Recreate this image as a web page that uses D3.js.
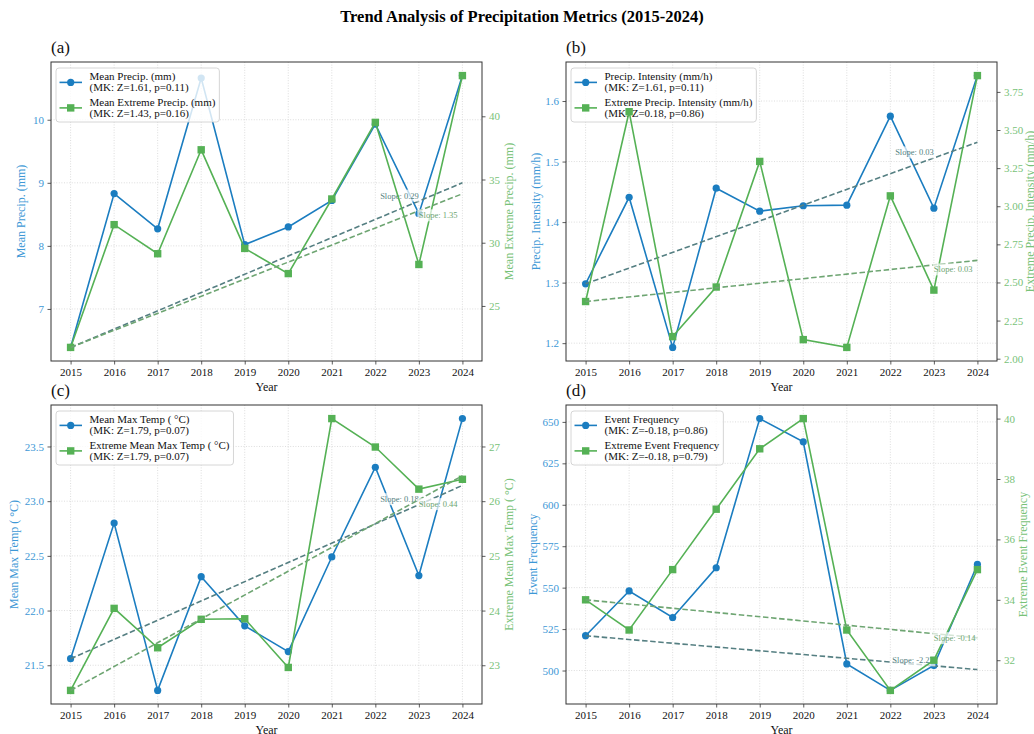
<!DOCTYPE html>
<html>
<head>
<meta charset="utf-8">
<script src="https://cdn.jsdelivr.net/npm/d3@7"></script>
<style>
  body { margin: 0; background: #fff; }
  svg { display: block; }
</style>
</head>
<body>
<svg id="chart" width="1034" height="734"></svg>
<script>
// ---- data -------------------------------------------------------------
const years = [2015, 2016, 2017, 2018, 2019, 2020, 2021, 2022, 2023, 2024];

// (a) precipitation amount
const meanPrecip        = [6.39, 8.83, 8.27, 10.66, 8.02, 8.30, 8.72, 9.93, 8.51, 10.70];
const meanExtremePrecip = [21.72, 31.43, 29.13, 37.35, 29.55, 27.56, 33.46, 39.52, 28.28, 43.22];
// (b) precipitation intensity
const precipIntensity        = [1.298, 1.441, 1.193, 1.456, 1.418, 1.427, 1.428, 1.575, 1.423, 1.642];
const extremePrecipIntensity = [2.375, 3.62, 2.145, 2.47, 3.294, 2.125, 2.074, 3.068, 2.45, 3.857];
// (c) maximum temperature
const meanMaxTemp        = [21.56, 22.80, 21.27, 22.31, 21.86, 21.625, 22.49, 23.31, 22.32, 23.755];
const extremeMeanMaxTemp = [22.54, 24.04, 23.32, 23.84, 23.85, 22.96, 27.51, 26.99, 26.22, 26.40];
// (d) event counts
const eventFreq        = [521, 548, 532, 562, 652, 638, 504, 488, 503, 564];
const extremeEventFreq = [34, 33, 35, 37, 39, 40, 33, 31, 32, 35];

const panelLetters = ["(a)", "(b)", "(c)", "(d)"];
const primaryNames   = ["Mean Precip. (mm)", "Precip. Intensity (mm/h)", "Mean Max Temp ( \u00B0C)", "Event Frequency"];
const secondaryNames = ["Mean Extreme Precip. (mm)", "Extreme Precip. Intensity (mm/h)", "Extreme Mean Max Temp ( \u00B0C)", "Extreme Event Frequency"];
const primaryMK   = [["1.61", "0.11"], ["1.61", "0.11"], ["1.79", "0.07"], ["-0.18", "0.86"]];
const secondaryMK = [["1.43", "0.16"], ["0.18", "0.86"], ["1.79", "0.07"], ["-0.18", "0.79"]];
// Sen's slope per year, trend anchored on the first year
const primarySlopes   = [0.29, 0.026, 0.176, -2.27];
const secondarySlopes = [1.35, 0.03, 0.436, -0.14];

const leftTicks  = [[7, 8, 9, 10], [1.2, 1.3, 1.4, 1.5, 1.6], [21.5, 22.0, 22.5, 23.0, 23.5], [500, 525, 550, 575, 600, 625, 650]];
const rightTicks = [[25, 30, 35, 40], [2.00, 2.25, 2.50, 2.75, 3.00, 3.25, 3.50, 3.75], [23, 24, 25, 26, 27], [32, 34, 36, 38, 40]];
const leftFormats  = ["d", ".1f", ".1f", "d"];
const rightFormats = ["d", ".2f", "d", "d"];

const primarySeries   = [meanPrecip, precipIntensity, meanMaxTemp, eventFreq];
const secondarySeries = [meanExtremePrecip, extremePrecipIntensity, extremeMeanMaxTemp, extremeEventFreq];

// ---- layout & style --------------------------------------------------
const FONT = "'Liberation Serif', 'Times New Roman', serif";
const BLUE = "#1b7dc0", GREEN = "#55b155";
const BLUE_TXT = "#3d98d6", GREEN_TXT = "#78c278";
const BLUE_TREND = "#557f82", GREEN_TREND = "#6ea572";

const panels = [
  { left: 51,  top: 62,  width: 431, height: 299, leftLab: -30, rightLab: 27 },
  { left: 566, top: 62,  width: 431, height: 299, leftLab: -30, rightLab: 33 },
  { left: 51,  top: 405, width: 431, height: 299, leftLab: -37, rightLab: 27 },
  { left: 566, top: 405, width: 431, height: 299, leftLab: -33, rightLab: 26 }
];

const svg = d3.select("#chart").style("font-family", FONT);

svg.append("text")
  .attr("x", 522).attr("y", 22)
  .attr("text-anchor", "middle")
  .style("font-size", "16.5px").style("font-weight", "bold")
  .text("Trend Analysis of Precipitation Metrics (2015-2024)");

function paddedDomain(vals) {
  const [lo, hi] = d3.extent(vals);
  const pad = (hi - lo) * 0.05;
  return [lo - pad, hi + pad];
}

function addSlopeLabel(g, x, y, slope, color, side) {
  const t = g.append("text")
    .attr("x", x)
    .attr("y", side === "above" ? y - 2.5 : y + 7.5)
    .attr("text-anchor", side === "above" ? "end" : "start")
    .style("font-size", "8.5px")
    .attr("fill", color)
    .text("Slope: " + slope.toFixed(2));
  const bb = t.node().getBBox();
  g.insert("rect", () => t.node())
    .attr("x", bb.x - 1.5).attr("y", bb.y - 1)
    .attr("width", bb.width + 3).attr("height", bb.height + 2)
    .attr("fill", "#fff").attr("fill-opacity", 0.7);
}

function drawSeries(g, x, y, vals, color, shape) {
  const line = d3.line().x((d, i) => x(years[i])).y(d => y(d));
  g.append("path").datum(vals)
    .attr("d", line).attr("fill", "none")
    .attr("stroke", color).attr("stroke-width", 1.6);
  if (shape === "circle") {
    g.selectAll(null).data(vals).enter().append("circle")
      .attr("cx", (d, i) => x(years[i])).attr("cy", d => y(d))
      .attr("r", 3.6).attr("fill", color);
  } else {
    const s = 7.4;
    g.selectAll(null).data(vals).enter().append("rect")
      .attr("x", (d, i) => x(years[i]) - s / 2).attr("y", d => y(d) - s / 2)
      .attr("width", s).attr("height", s).attr("fill", color);
  }
}

function drawTrend(g, x, y, vals, slope, color) {
  const first = years[0], last = years[years.length - 1];
  const ends = [first, last].map(yr => ({ yr, v: vals[0] + slope * (yr - first) }));
  g.append("line")
    .attr("x1", x(ends[0].yr)).attr("y1", y(ends[0].v))
    .attr("x2", x(ends[1].yr)).attr("y2", y(ends[1].v))
    .attr("stroke", color).attr("stroke-width", 1.6)
    .attr("stroke-dasharray", "5.5,2.6");
  return yr => vals[0] + slope * (yr - first);
}

function drawLegend(g, p, k) {
  const lg = g.append("g").attr("transform", `translate(${p.left + 5},${p.top + 6})`);
  const box = lg.append("rect").attr("rx", 3)
    .attr("fill", "#fff").attr("fill-opacity", 0.8)
    .attr("stroke", "#cccccc").attr("stroke-width", 0.8);
  const entries = [
    { name: primaryNames[k], mk: primaryMK[k], color: BLUE, shape: "circle", y0: 0 },
    { name: secondaryNames[k], mk: secondaryMK[k], color: GREEN, shape: "square", y0: 25.5 }
  ];
  let maxW = 0;
  entries.forEach(e => {
    const hy = e.y0 + 14.4;
    lg.append("line").attr("x1", 3.5).attr("x2", 26).attr("y1", hy).attr("y2", hy)
      .attr("stroke", e.color).attr("stroke-width", 1.6);
    if (e.shape === "circle") {
      lg.append("circle").attr("cx", 14.7).attr("cy", hy).attr("r", 3.6).attr("fill", e.color);
    } else {
      lg.append("rect").attr("x", 14.7 - 3.7).attr("y", hy - 3.7).attr("width", 7.4).attr("height", 7.4).attr("fill", e.color);
    }
    [e.name, `(MK: Z=${e.mk[0]}, p=${e.mk[1]})`].forEach((txt, j) => {
      const t = lg.append("text").attr("x", 33.5).attr("y", e.y0 + 12.3 + j * 10.7)
        .style("font-size", "11px").attr("fill", "#111").text(txt);
      maxW = Math.max(maxW, t.node().getComputedTextLength());
    });
  });
  box.attr("x", 0).attr("y", 0).attr("width", 33.5 + maxW + 4).attr("height", 54);
}

panels.forEach((p, k) => {
  const g = svg.append("g");
  const x = d3.scaleLinear().domain([years[0] - 0.45, years[years.length - 1] + 0.45])
    .range([p.left, p.left + p.width]);
  const y1 = d3.scaleLinear().domain(paddedDomain(primarySeries[k])).range([p.top + p.height, p.top]);
  const y2 = d3.scaleLinear().domain(paddedDomain(secondarySeries[k])).range([p.top + p.height, p.top]);

  // grid
  const grid = g.append("g").attr("stroke", "#d4d4d4").attr("stroke-width", 0.8).attr("stroke-dasharray", "1,1.6");
  years.forEach(yr => grid.append("line").attr("x1", x(yr)).attr("x2", x(yr)).attr("y1", p.top).attr("y2", p.top + p.height));
  leftTicks[k].forEach(v => grid.append("line").attr("x1", p.left).attr("x2", p.left + p.width).attr("y1", y1(v)).attr("y2", y1(v)));

  // primary axis content
  drawSeries(g, x, y1, primarySeries[k], BLUE, "circle");
  const tr1 = drawTrend(g, x, y1, primarySeries[k], primarySlopes[k], BLUE_TREND);
  addSlopeLabel(g, x(years[8]), y1(tr1(years[8])), primarySlopes[k], BLUE_TREND, "above");
  drawLegend(g, p, k);

  // secondary axis content
  drawSeries(g, x, y2, secondarySeries[k], GREEN, "square");
  const tr2 = drawTrend(g, x, y2, secondarySeries[k], secondarySlopes[k], GREEN_TREND);
  addSlopeLabel(g, x(years[8]), y2(tr2(years[8])), secondarySlopes[k], GREEN_TREND, "below");

  // axes
  const xAxis = g.append("g").attr("transform", `translate(0,${p.top + p.height})`)
    .call(d3.axisBottom(x).tickValues(years).tickFormat(d3.format("d")).tickSize(3.5).tickPadding(3.5));
  const lAxis = g.append("g").attr("transform", `translate(${p.left},0)`)
    .call(d3.axisLeft(y1).tickValues(leftTicks[k]).tickFormat(d3.format(leftFormats[k])).tickSize(3.5).tickPadding(3.5));
  const rAxis = g.append("g").attr("transform", `translate(${p.left + p.width},0)`)
    .call(d3.axisRight(y2).tickValues(rightTicks[k]).tickFormat(d3.format(rightFormats[k])).tickSize(3.5).tickPadding(3.5));
  [xAxis, lAxis, rAxis].forEach(a => {
    a.select(".domain").remove();
    a.selectAll("line").attr("stroke", "#333").attr("stroke-width", 0.8);
    a.selectAll("text").style("font-size", "11px").style("font-family", FONT);
  });
  xAxis.selectAll("text").attr("fill", "#111");
  lAxis.selectAll("text").attr("fill", BLUE_TXT);
  rAxis.selectAll("text").attr("fill", GREEN_TXT);

  // frame
  g.append("rect").attr("x", p.left).attr("y", p.top).attr("width", p.width).attr("height", p.height)
    .attr("fill", "none").attr("stroke", "#333").attr("stroke-width", 1);

  // labels
  g.append("text").attr("x", p.left + p.width / 2).attr("y", p.top + p.height + 30)
    .attr("text-anchor", "middle").style("font-size", "12px").attr("fill", "#111").text("Year");
  const cy = p.top + p.height / 2;
  g.append("text").attr("transform", `translate(${p.left + p.leftLab},${cy}) rotate(-90)`)
    .attr("text-anchor", "middle").attr("dy", "0.35em").style("font-size", "12px").attr("fill", BLUE_TXT)
    .text(primaryNames[k]);
  g.append("text").attr("transform", `translate(${p.left + p.width + p.rightLab},${cy}) rotate(-90)`)
    .attr("text-anchor", "middle").attr("dy", "0.35em").style("font-size", "12px").attr("fill", GREEN_TXT)
    .text(secondaryNames[k]);
  g.append("text").attr("x", p.left).attr("y", p.top - 9)
    .style("font-size", "17px").attr("fill", "#111").text(panelLetters[k]);
});
</script>
</body>
</html>
